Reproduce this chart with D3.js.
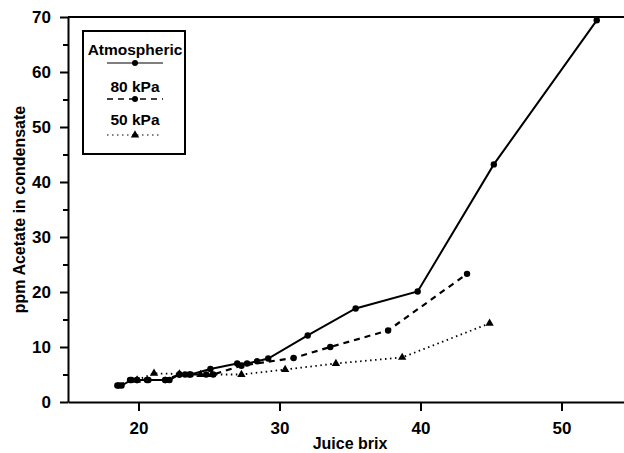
<!DOCTYPE html>
<html>
<head>
<meta charset="utf-8">
<script src="https://cdn.jsdelivr.net/npm/d3@7"></script>
<style>
  body { margin: 0; background: #fff; }
  svg { display: block; }
  text { font-family: "Liberation Sans", Arial, sans-serif; font-weight: bold; fill: #000; }
</style>
</head>
<body>
<svg id="chart"></svg>
<script>
// juice brix vs ppm acetate, three evaporator pressures
var atmospheric = [
  [18.5, 3], [18.8, 3], [19.5, 4], [19.9, 4], [20.7, 4], [21.9, 4], [22.2, 4],
  [22.9, 5], [23.3, 5], [23.7, 5], [25.1, 6], [27.0, 7], [27.7, 7], [28.4, 7.4],
  [29.2, 7.9], [32.0, 12.1], [35.4, 17], [39.8, 20.1], [45.2, 43.2], [52.5, 69.4]
];
var kpa80 = [
  [18.6, 3], [19.4, 4], [19.9, 4], [20.6, 4], [21.9, 4], [22.9, 5], [23.6, 5],
  [24.8, 5], [25.3, 5], [27.3, 6.6], [31.0, 8], [33.6, 10], [37.7, 13], [43.3, 23.3]
];
var kpa50 = [
  [19.9, 4], [21.1, 5.2], [22.9, 5.1], [24.4, 5], [25.2, 5], [27.3, 5],
  [30.4, 5.9], [34.0, 7], [38.7, 8.1], [44.9, 14.3]
];
var xTicks = [20, 30, 40, 50];
var yTicks = [0, 10, 20, 30, 40, 50, 60, 70];
var yMinor = [5, 15, 25, 35, 45, 55, 65];
var legendLabels = ["Atmospheric", "80 kPa", "50 kPa"];

var svgWidth = 624, svgHeight = 453;
var svg = d3.select("#chart").attr("width", svgWidth).attr("height", svgHeight);

var x = d3.scaleLinear().domain([15, 55]).range([68, 632]);
var y = d3.scaleLinear().domain([0, 70]).range([402, 17]);

// frame top line
svg.append("line")
  .attr("x1", x(15)).attr("x2", svgWidth)
  .attr("y1", y(70)).attr("y2", y(70))
  .attr("stroke", "#000").attr("stroke-width", 2);

var xAxis = svg.append("g")
  .attr("transform", "translate(0," + y(0) + ")")
  .call(d3.axisBottom(x).tickValues(xTicks).tickSize(9).tickSizeOuter(0).tickPadding(11));
xAxis.selectAll("text").style("font-size", "17px");

var yAxis = svg.append("g")
  .attr("transform", "translate(" + x(15) + ",0)")
  .call(d3.axisLeft(y).tickValues(yTicks).tickSize(8).tickSizeOuter(0).tickPadding(9));
yAxis.selectAll("text").style("font-size", "17px");

svg.append("g")
  .attr("transform", "translate(" + x(15) + ",0)")
  .call(d3.axisLeft(y).tickValues(yMinor).tickSize(5).tickFormat(""))
  .select(".domain").remove();

svg.selectAll(".domain, .tick line").attr("stroke", "#000").attr("stroke-width", 2);

svg.append("text")
  .attr("transform", "translate(19," + ((y(0) + y(70)) / 2) + ")rotate(-90)")
  .attr("text-anchor", "middle")
  .attr("dy", "0.35em")
  .style("font-size", "16px")
  .text("ppm Acetate in condensate");

svg.append("text")
  .attr("x", 350).attr("y", 449)
  .attr("text-anchor", "middle")
  .style("font-size", "16px")
  .text("Juice brix");

var line = d3.line()
  .x(function(d) { return x(d[0]); })
  .y(function(d) { return y(d[1]); });

var series = [
  { data: atmospheric, dash: null, width: 2, marker: "circle" },
  { data: kpa80, dash: "6,5", width: 2.2, marker: "circle" },
  { data: kpa50, dash: "1.5,3.5", width: 1.8, marker: "triangle" }
];

var tri = d3.symbol().type(d3.symbolTriangle).size(30);

series.forEach(function(s) {
  svg.append("path")
    .datum(s.data)
    .attr("fill", "none")
    .attr("stroke", "#000")
    .attr("stroke-width", s.width)
    .attr("stroke-dasharray", s.dash)
    .attr("d", line);

  if (s.marker == "circle") {
    svg.selectAll(null)
      .data(s.data)
      .enter().append("circle")
      .attr("cx", function(d) { return x(d[0]); })
      .attr("cy", function(d) { return y(d[1]); })
      .attr("r", 3.2)
      .attr("fill", "#000");
  } else {
    svg.selectAll(null)
      .data(s.data)
      .enter().append("path")
      .attr("transform", function(d) { return "translate(" + x(d[0]) + "," + y(d[1]) + ")"; })
      .attr("d", tri)
      .attr("fill", "#000");
  }
});

// legend
var lg = svg.append("g");
lg.append("rect")
  .attr("x", 83).attr("y", 31).attr("width", 102).attr("height", 123)
  .attr("fill", "#fff").attr("stroke", "#000").attr("stroke-width", 2);

var legendRows = [
  { textY: 55, lineY: 63, x1: 107, x2: 163 },
  { textY: 92, lineY: 99, x1: 107, x2: 163 },
  { textY: 125, lineY: 135, x1: 107, x2: 159 }
];

legendRows.forEach(function(r, i) {
  var s = series[i];
  lg.append("text")
    .attr("x", 135).attr("y", r.textY)
    .attr("text-anchor", "middle")
    .style("font-size", "15.5px")
    .text(legendLabels[i]);
  lg.append("line")
    .attr("x1", r.x1).attr("x2", r.x2)
    .attr("y1", r.lineY).attr("y2", r.lineY)
    .attr("stroke", "#000")
    .attr("stroke-width", s.width * 0.6)
    .attr("stroke-dasharray", s.dash);
  if (s.marker == "circle") {
    lg.append("circle").attr("cx", 135).attr("cy", r.lineY).attr("r", 3).attr("fill", "#000");
  } else {
    lg.append("path").attr("transform", "translate(135," + r.lineY + ")").attr("d", tri).attr("fill", "#000");
  }
});
</script>
</body>
</html>
